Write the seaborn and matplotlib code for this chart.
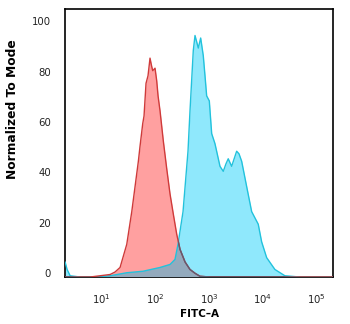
import numpy as np
import pandas as pd
import matplotlib
matplotlib.use("Agg")
import matplotlib.pyplot as plt
import matplotlib.transforms as mtransforms
import seaborn as sns

# Isotype control histogram (log10 of FITC-A, % of mode)
ctrl_log = [0.333, 0.796, 0.981, 1.167, 1.259, 1.352, 1.476, 1.569, 1.630, 1.691,
            1.722, 1.772, 1.796, 1.833, 1.870, 1.907, 1.935, 1.957, 2.000, 2.031,
            2.056, 2.093, 2.154, 2.217, 2.278, 2.339, 2.402, 2.463, 2.556, 2.648,
            2.741, 2.833, 3.019, 5.296]
ctrl_pct = [0, 0, 0.5, 1, 2, 3.8, 13, 26, 36, 46,
            52, 61, 64, 77, 80, 87, 84, 82, 83, 78,
            72, 66, 54, 43, 33, 25, 17, 11, 6, 3,
            1.5, 0.3, 0, 0]

# Stained sample histogram
stain_log = [0.333, 0.370, 0.426, 0.611, 0.889, 1.167, 1.476, 1.778, 2.093, 2.278,
             2.370, 2.426, 2.519, 2.611, 2.648, 2.709, 2.741, 2.778, 2.802, 2.846,
             2.894, 2.926, 2.957, 3.006, 3.050, 3.111, 3.204, 3.265, 3.315, 3.357,
             3.420, 3.513, 3.556, 3.606, 3.698, 3.791, 3.913, 3.976, 4.069, 4.222,
             4.407, 4.685, 5.296]
stain_pct = [6, 3, 0.5, 0, 0, 0.5, 1.7, 2.3, 3.8, 5,
             7, 13, 26, 50, 66, 90, 96, 93, 91, 95,
             88, 80, 72, 70, 57, 53, 44, 42, 45, 47,
             44, 50, 49, 46, 36, 26, 21, 14, 7.7, 3,
             0.5, 0, 0]

x_ticks = [1, 2, 3, 4, 5]
x_ticklabels = [r"$10^{%d}$" % e for e in x_ticks]
y_ticks = [0, 20, 40, 60, 80, 100]

sns.set_style("white")
plt.rcParams["font.family"] = ["DejaVu Sans"]

ctrl = pd.DataFrame({"fitc": np.power(10.0, ctrl_log), "pct": ctrl_pct})
stain = pd.DataFrame({"fitc": np.power(10.0, stain_log), "pct": stain_pct})

fig = plt.figure(figsize=(3.5, 3.24), dpi=100)
ax = fig.add_axes([0.186, 0.145, 0.765, 0.827])
ax.set_xscale("log")

red_fill, red_edge = "#ffa0a0", "#cf3a3a"
blue_fill, blue_edge = "#8fe8fc", "#22c2dc"
mix_fill, mix_red = "#93aabd", "#5e5c72"

ax.fill_between(ctrl["fitc"], ctrl["pct"], 0, color=red_fill, lw=0, zorder=1)
blue_poly = ax.fill_between(stain["fitc"], stain["pct"], 0, color=blue_fill, lw=0, zorder=2)
red_poly = ax.fill_between(ctrl["fitc"], ctrl["pct"], 0, color=mix_fill, lw=0, zorder=3)
# overlap of the two populations
red_poly.set_clip_path(blue_poly.get_paths()[0], blue_poly.get_transform())

sns.lineplot(data=stain, x="fitc", y="pct", ax=ax, color=blue_edge, lw=1.0,
             zorder=4, estimator=None, sort=False)
sns.lineplot(data=ctrl, x="fitc", y="pct", ax=ax, color=red_edge, lw=1.0,
             zorder=5, estimator=None, sort=False)
# control edge where it lies over the stained population
ln_r = ax.plot(ctrl["fitc"], ctrl["pct"], color=mix_red, lw=1.0, zorder=6)[0]
ln_r.set_clip_path(blue_poly.get_paths()[0], blue_poly.get_transform())

ax.set_xlim(10 ** 0.333, 10 ** 5.296)
ax.set_ylim(0, 106.5)
ax.set_xticks(np.power(10.0, x_ticks))
ax.set_xticklabels(x_ticklabels)
ax.xaxis.set_minor_locator(matplotlib.ticker.NullLocator())
ax.set_yticks(y_ticks)
ax.tick_params(axis="both", length=0, labelsize=7.3, colors="#222222")
ax.tick_params(axis="x", pad=11)
ax.tick_params(axis="y", pad=10)
shift = mtransforms.ScaledTranslation(0, 4 / 100, fig.dpi_scale_trans)
for lab in ax.get_yticklabels():
    lab.set_transform(lab.get_transform() + shift)
ax.set_xlabel("")
ax.set_ylabel("")
for s in ax.spines.values():
    s.set_color("black")
    s.set_linewidth(1.2)

fig.text(0.569, 0.031, "FITC\u2013A", ha="center", va="center", color="black",
         fontsize=7.5, fontweight="bold", family="DejaVu Sans")
fig.text(0.036, 0.664, "Normalized To Mode", ha="center", va="center", color="black",
         rotation=90, fontsize=8.8, fontweight="bold", family="DejaVu Sans")

fig.savefig("out.png", dpi=100)
